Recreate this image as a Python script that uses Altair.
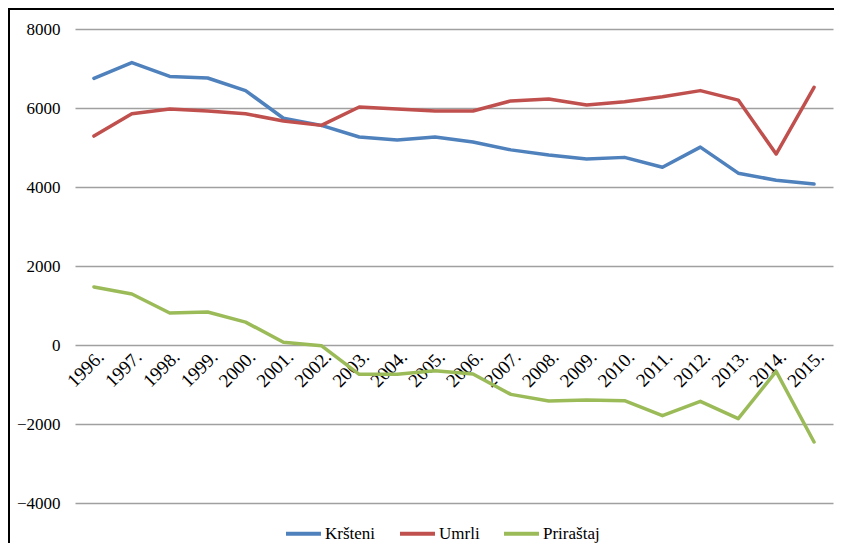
import altair as alt
import pandas as pd

years = ["1996.", "1997.", "1998.", "1999.", "2000.", "2001.", "2002.", "2003.", "2004.", "2005.",
         "2006.", "2007.", "2008.", "2009.", "2010.", "2011.", "2012.", "2013.", "2014.", "2015."]
krsteni = [6750, 7150, 6800, 6760, 6440, 5740, 5560, 5265, 5190, 5265,
           5140, 4940, 4810, 4710, 4750, 4500, 5010, 4350, 4170, 4075]
umrli = [5290, 5855, 5975, 5925, 5855, 5670, 5560, 6025, 5975, 5925,
         5925, 6180, 6230, 6075, 6160, 6285, 6440, 6200, 4835, 6525]
prirastaj = [1470, 1290, 810, 835, 580, 68, -18, -742, -742, -650,
             -734, -1250, -1418, -1392, -1410, -1790, -1425, -1865, -666, -2455]

series_names = ["Kršteni", "Umrli", "Priraštaj"]
series_colors = ["#4F81BD", "#C0504D", "#9BBB59"]

rows = []
for name, vals in zip(series_names, [krsteni, umrli, prirastaj]):
    for i, (y, v) in enumerate(zip(years, vals)):
        rows.append({"Godina": y, "Vrijednost": v, "Serija": name, "ord": i})
df = pd.DataFrame(rows)

W, H = 758, 474
PAD_R, PAD_B = 1, 40
FONT = "Liberation Serif"

lines = alt.Chart(df).mark_line(strokeWidth=3.5, strokeCap="round", strokeJoin="round").encode(
    x=alt.X("Godina:N", sort=years, title=None,
            scale=alt.Scale(type="point", padding=0.5),
            axis=alt.Axis(labelAngle=-45, labelAlign="right", labelBaseline="top",
                          labelPadding=2, ticks=False, domain=False, grid=False,
                          offset=-(H * 4000 / 12000),
                          labelFont=FONT, labelFontSize=19, labelColor="black")),
    y=alt.Y("Vrijednost:Q", title=None,
            scale=alt.Scale(domain=[-4000, 8000], nice=False),
            axis=alt.Axis(values=[-4000, -2000, 0, 2000, 4000, 6000, 8000], format="d",
                          ticks=False, domain=False, labelPadding=15,
                          gridColor="#A0A0A0", gridWidth=1.5,
                          labelFont=FONT, labelFontSize=17, labelColor="black")),
    color=alt.Color("Serija:N", sort=series_names,
                    scale=alt.Scale(domain=series_names, range=series_colors),
                    legend=alt.Legend(title=None, orient="none", direction="horizontal",
                                      legendX=209, legendY=485, padding=0,
                                      symbolType="stroke", symbolStrokeWidth=4,
                                      symbolSize=1225, columnPadding=16, labelOffset=2,
                                      labelFont=FONT, labelFontSize=17, labelColor="black")),
    order="ord:Q",
)

frame_df = pd.DataFrame({"a": [0]})
left_edge = alt.Chart(frame_df).mark_rule(stroke="black", strokeWidth=2, clip=False).encode(
    x=alt.value(-66), y=alt.value(-21), y2=alt.value(H + PAD_B),
)
top_edge = alt.Chart(frame_df).mark_rule(stroke="black", strokeWidth=2, clip=False).encode(
    x=alt.value(-67), x2=alt.value(W + PAD_R), y=alt.value(-20),
)

chart = alt.layer(left_edge, top_edge, lines).properties(
    width=W, height=H,
    background="white",
    autosize=alt.AutoSizeParams(type="none"),
    padding={"left": 67, "top": 21, "right": PAD_R, "bottom": PAD_B},
).configure_view(stroke=None)

chart.save("out.html", embed_options={"renderer": "svg", "actions": False})
